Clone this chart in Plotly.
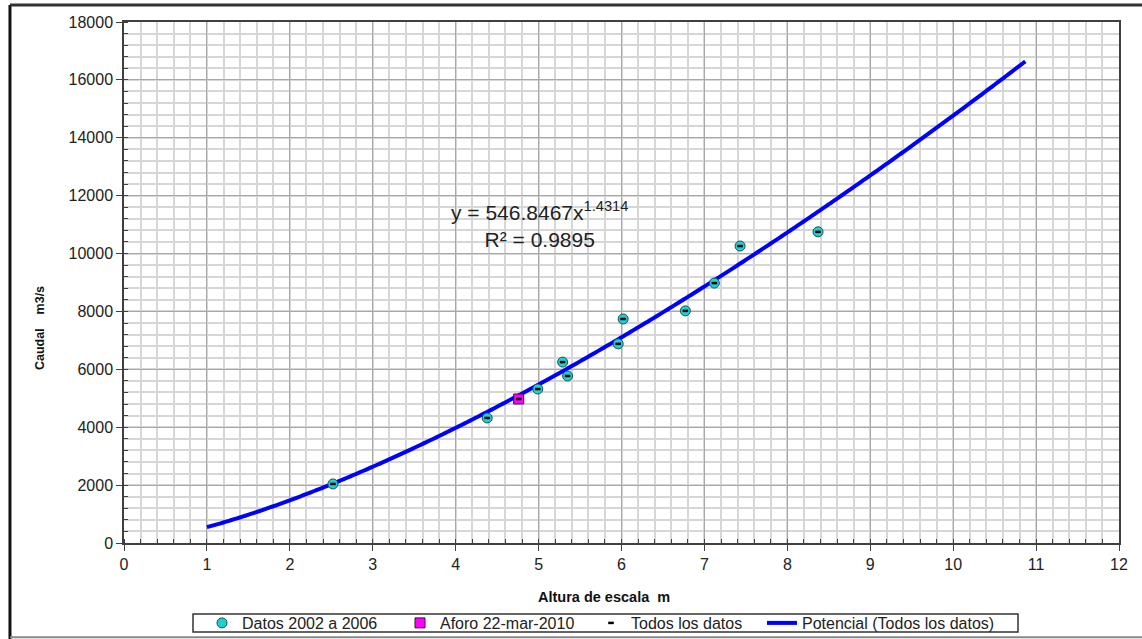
import plotly.graph_objects as go
import numpy as np

# Stage height (m) and discharge (m3/s), field data 2002-2006
altura_datos = [2.52, 4.38, 4.99, 5.29, 5.35, 5.96, 6.02, 6.77, 7.12, 7.43, 8.37]
caudal_datos = [2040, 4320, 5320, 6250, 5770, 6880, 7740, 8020, 8980, 10260, 10750]

# Gauging of 22-mar-2010
altura_aforo = [4.76]
caudal_aforo = [4975]

# All measurements together
altura_todos = altura_datos + altura_aforo
caudal_todos = caudal_datos + caudal_aforo

# Power trendline fitted to all data: Q = a * h^b
coef_a = 546.8467
coef_b = 1.4314
r2 = 0.9895
h_min, h_max = 1.0, 10.87

h_curve = np.linspace(h_min, h_max, 300)
q_curve = coef_a * h_curve ** coef_b

FONT = "Liberation Sans, Arial, sans-serif"

fig = go.Figure()

fig.add_trace(go.Scatter(
    x=h_curve, y=q_curve, mode="lines",
    name="Potencial (Todos los datos)",
    line=dict(color="#0000FF", width=4, simplify=False),
    legend="legend4",
))
fig.add_trace(go.Scatter(
    x=altura_datos, y=caudal_datos, mode="markers",
    name="Datos 2002 a 2006",
    marker=dict(symbol="circle", size=10, color="#1FD0D0",
                line=dict(color="#1B4F55", width=1)),
    legend="legend",
))
fig.add_trace(go.Scatter(
    x=altura_aforo, y=caudal_aforo, mode="markers",
    name="Aforo 22-mar-2010",
    marker=dict(symbol="square", size=10, color="#FF00FF",
                line=dict(color="#3A1040", width=1)),
    legend="legend2",
))
fig.add_trace(go.Scatter(
    x=altura_todos, y=caudal_todos, mode="markers",
    name="Todos los datos",
    marker=dict(symbol="line-ew", size=4, color="black",
                line=dict(color="black", width=2.5)),
    legend="legend3",
))

grid_major = "#A8A8A8"
grid_minor = "#D6D6D6"

fig.update_xaxes(
    range=[0, 12], dtick=1, tick0=0,
    showgrid=True, gridcolor=grid_major, gridwidth=1,
    showline=True, linecolor="#404040", linewidth=1.5, mirror=True,
    ticks="outside", ticklen=6, tickcolor="#404040",
    tickfont=dict(family=FONT, size=16, color="#222222"),
    minor=dict(dtick=0.2, showgrid=True, gridcolor=grid_minor, gridwidth=1.5,
               ticks="inside", ticklen=4, tickcolor="#404040"),
    zeroline=False,
)
fig.update_yaxes(
    range=[0, 18000], dtick=2000, tick0=0, tickformat="d",
    showgrid=True, gridcolor=grid_major, gridwidth=1,
    showline=True, linecolor="#404040", linewidth=1.5, mirror=True,
    ticks="outside", ticklen=6, tickcolor="#404040",
    tickfont=dict(family=FONT, size=16, color="#222222"),
    minor=dict(dtick=400, showgrid=True, gridcolor=grid_minor, gridwidth=1.5,
               ticks="inside", ticklen=4, tickcolor="#404040"),
    zeroline=False,
)

eq_text = (f"y = {coef_a:.4f}x<sup>{coef_b:.4f}</sup><br>"
           f"R² = {r2:.4f}")


def legend_at(left_px):
    # one legend entry placed at a given left edge (pixels in the page)
    return dict(
        orientation="h", x=(left_px - 124) / 995, xanchor="left",
        yref="container", y=1 - 623 / 639, yanchor="middle",
        borderwidth=0, bgcolor="rgba(0,0,0,0)",
        font=dict(family=FONT, size=16, color="#222222"),
        itemsizing="trace", itemwidth=30,
    )


fig.update_layout(
    width=1142, height=639,
    margin=dict(l=124, r=23, t=22, b=96),
    paper_bgcolor="white", plot_bgcolor="white",
    font=dict(family=FONT, color="#222222"),
    showlegend=True,
    legend=legend_at(202),
    legend2=legend_at(400),
    legend3=legend_at(591),
    legend4=legend_at(762),
    annotations=[
        dict(x=5.005, y=10990, xref="x", yref="y", text=eq_text, showarrow=False,
             align="center", xanchor="center", yanchor="middle",
             font=dict(family=FONT, size=21, color="#222222")),
        dict(x=0.4824, y=-0.1036, xref="paper", yref="paper",
             text="<b>Altura de escala  m</b>", showarrow=False,
             xanchor="center", yanchor="middle",
             font=dict(family=FONT, size=14.5, color="#111111")),
        dict(x=-0.0844, y=0.4127, xref="paper", yref="paper",
             text="<b>Caudal    m3/s</b>", showarrow=False, textangle=-90,
             xanchor="center", yanchor="middle",
             font=dict(family=FONT, size=12.5, color="#111111")),
    ],
    shapes=[
        # legend frame
        dict(type="rect", xref="paper", yref="paper",
             x0=(193 - 124) / 995, x1=(1018 - 124) / 995,
             y0=(543 - 632) / 521, y1=(543 - 614) / 521,
             line=dict(color="#333333", width=1.5), fillcolor="rgba(0,0,0,0)"),
        # outer chart frame
        dict(type="line", xref="paper", yref="paper",
             x0=-0.1146, x1=-0.1146, y0=-0.185, y1=1.0326,
             line=dict(color="#111111", width=3)),
        dict(type="line", xref="paper", yref="paper",
             x0=-0.1146, x1=1.03, y0=1.0326, y1=1.0326,
             line=dict(color="#333333", width=3)),
        dict(type="line", xref="paper", yref="paper",
             x0=-0.1146, x1=1.03, y0=-0.181, y1=-0.181,
             line=dict(color="#888888", width=2)),
    ],
)

fig.write_html("out.html")
